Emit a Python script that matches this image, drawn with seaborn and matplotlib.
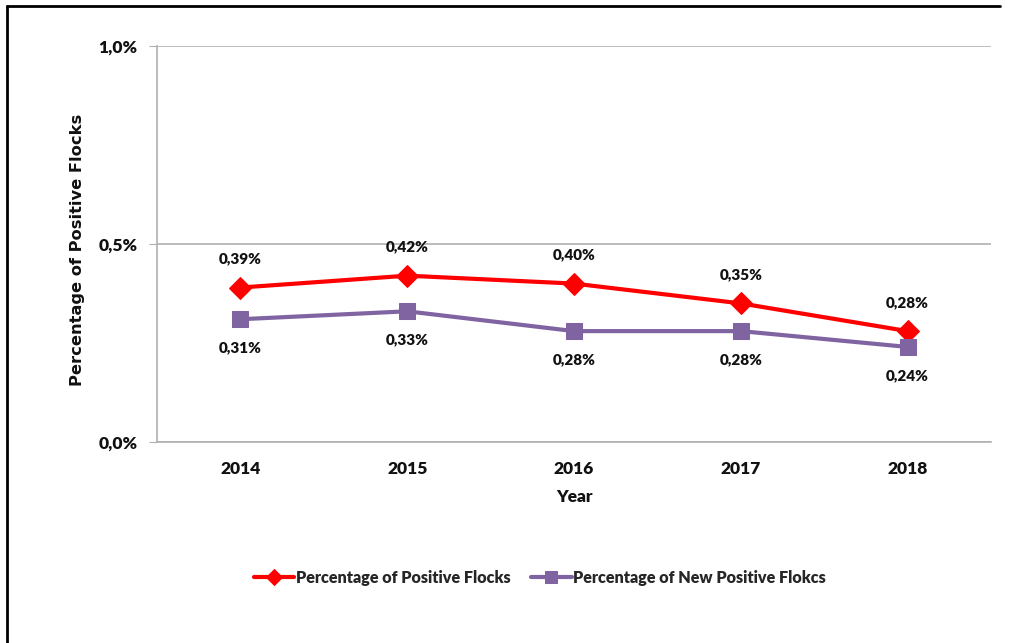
import pandas as pd
import matplotlib.pyplot as plt
import seaborn as sns
from matplotlib.lines import Line2D
from matplotlib.ticker import FixedLocator, FuncFormatter

years = ['2014', '2015', '2016', '2017', '2018']
positive = [0.39, 0.42, 0.40, 0.35, 0.28]
new_positive = [0.31, 0.33, 0.28, 0.28, 0.24]
name_pos = 'Percentage of Positive Flocks'
name_new = 'Percentage of New Positive Flokcs'

df = pd.DataFrame({'year': years * 2,
                   'value': positive + new_positive,
                   'series': [name_pos] * 5 + [name_new] * 5})

sns.set_style('white')
plt.rcParams['font.family'] = ['Lato', 'DejaVu Sans']
plt.rcParams['font.weight'] = 'heavy'

red = '#FF0000'
purple = '#8064A2'
grey = '#B0B0B0'
txt = '#111111'
w = 'heavy'

fig = plt.figure(figsize=(10.09, 6.43), dpi=100)
ax = fig.add_axes([0.1556, 0.3126, 0.8266, 0.6159])

sns.lineplot(data=df[df.series == name_pos], x='year', y='value', color=red,
             marker='D', markersize=11, markeredgecolor=red, linewidth=3,
             ax=ax, label=name_pos)
sns.lineplot(data=df[df.series == name_new], x='year', y='value', color=purple,
             marker='s', markersize=12, markeredgecolor=purple, linewidth=3,
             ax=ax, label=name_new)

for i, v in enumerate(positive):
    ax.annotate(f'{v:.2f}%'.replace('.', ','), (i, v), xytext=(0, 16),
                textcoords='offset points', ha='center', va='bottom',
                fontsize=11, fontweight=w, color=txt)
for i, v in enumerate(new_positive):
    ax.annotate(f'{v:.2f}%'.replace('.', ','), (i, v), xytext=(0, -16),
                textcoords='offset points', ha='center', va='top',
                fontsize=11, fontweight=w, color=txt)

ax.set_xlim(-0.5, 4.5)
ax.set_ylim(0, 1.0)
ax.set_yticks([0, 0.5, 1.0])
ax.yaxis.set_major_formatter(FuncFormatter(lambda v, p: f'{v:.1f}%'.replace('.', ',')))
ax.xaxis.set_minor_locator(FixedLocator([-0.5, 0.5, 1.5, 2.5, 3.5, 4.5]))
ax.tick_params(axis='x', which='major', length=0, pad=14, labelsize=12.5, labelcolor=txt)
ax.tick_params(axis='x', which='minor', length=6, color=grey, direction='out')
ax.tick_params(axis='y', length=6, color=grey, direction='out', pad=8,
               labelsize=12.5, labelcolor=txt, left=True)
for lab in ax.get_xticklabels() + ax.get_yticklabels():
    lab.set_fontweight(w)

ax.grid(axis='y', color=grey, linewidth=1.2)
ax.set_axisbelow(True)
for s in ['top', 'right']:
    ax.spines[s].set_visible(False)
for s in ['left', 'bottom']:
    ax.spines[s].set_color(grey)
    ax.spines[s].set_linewidth(1.2)

ax.set_xlabel('Year', fontsize=12.5, fontweight=w, color=txt, labelpad=8)
ax.set_ylabel('Percentage of Positive Flocks', fontsize=11.7, fontweight='bold',
              color=txt, family='DejaVu Sans')
ax.yaxis.set_label_coords(-0.086, 0.485)

ax.legend(loc='center', bbox_to_anchor=(0.535, 0.101), bbox_transform=fig.transFigure,
          ncol=2, frameon=False, prop={'size': 11.6, 'weight': w},
          handlelength=2.5, columnspacing=1.3, handletextpad=0.1, markerscale=0.7)

# outer frame (top and left edges only)
fig.add_artist(Line2D([0.007, 0.007], [0, 0.99], color='black', linewidth=2,
                      transform=fig.transFigure))
fig.add_artist(Line2D([0.007, 0.991], [0.99, 0.99], color='black', linewidth=2,
                      transform=fig.transFigure))

fig.savefig('out.png', dpi=100)
